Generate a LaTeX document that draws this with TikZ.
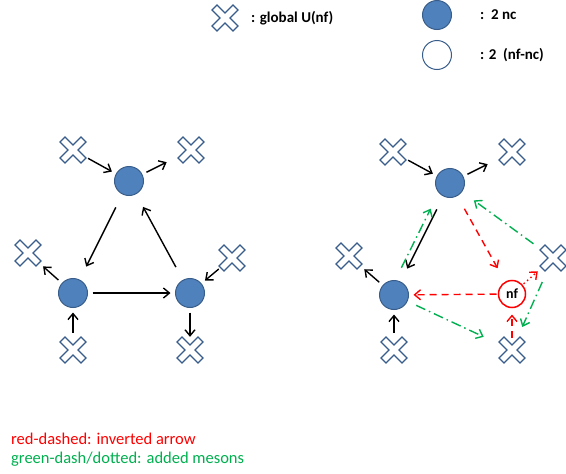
\documentclass[tikz,border=0pt]{standalone}
\usepackage{fontspec}
\setmainfont{Carlito}
\usetikzlibrary{arrows.meta,calc}
\definecolor{qblue}{HTML}{4F81BD}
\definecolor{qline}{HTML}{385D8A}
\definecolor{mgreen}{HTML}{00B050}

\begin{document}
\begin{tikzpicture}[x=1pt,y=-1pt,
    quark/.style={circle, fill=qblue, draw=qline, line width=1pt, minimum size=29pt, inner sep=0pt, outer sep=5pt},
    hollow/.style={quark, fill=white},
    flavour/.style={circle, minimum size=34pt, inner sep=0pt, path picture={
        \draw[qline, line width=1.3pt, fill=white, shift={(path picture bounding box.center)}]
          (-8.06,13.01) -- (-13.01,8.06) -- (-4.95,0) -- (-13.01,-8.06) -- (-8.06,-13.01) -- (0,-4.95) --
          (8.06,-13.01) -- (13.01,-8.06) -- (4.95,0) -- (13.01,8.06) -- (8.06,13.01) -- (0,4.95) -- cycle;}},
    nfnode/.style={circle, draw=red, line width=1.5pt, fill=white, minimum size=27pt, inner sep=0pt, outer sep=2pt, font=\bfseries\fontsize{14}{16}\selectfont},
    legend/.style={anchor=west, inner sep=0pt, font=\bfseries\fontsize{15}{18}\selectfont},
    meson/.style={-{Straight Barb[length=6pt,width=10pt]}, line width=1.4pt},
    inverted/.style={meson, red, dash pattern=on 7pt off 5pt},
    added/.style={meson, mgreen, dash pattern=on 10pt off 4pt on 1.5pt off 4pt}]

  \path[use as bounding box, fill=white] (0,0) rectangle (566,474);

  % legend
  \node[flavour] (lgx) at (225,18) {};
  \node[legend] (lgxt) at (251,18) {: global U(nf)};
  \node[quark] (lgq) at (437,15) {};
  \node[legend] (lgqt) at (480,15) {:~~2 nc};
  \node[hollow] (lgh) at (437,55) {};
  \node[legend] (lght) at (480,55) {: 2~~(nf-nc)};

  % left triangle
  \node[quark] (lt) at (129,181) {};
  \node[quark] (ll) at (73,293) {};
  \node[quark] (lr) at (190,293) {};
  \node[flavour] (ltl) at (73,150) {};
  \node[flavour] (ltr) at (191,150) {};
  \node[flavour] (lol) at (28,253) {};
  \node[flavour] (lor) at (232,258) {};
  \node[flavour] (lbl) at (73,350) {};
  \node[flavour] (lbr) at (190,350) {};

  \draw[meson] (ltl) -- (lt);
  \draw[meson, shorten >=10pt] (lt) -- (ltr);
  \draw[meson, shorten <=10pt, shorten >=10pt] (lt) -- (ll);
  \draw[meson, shorten <=10pt, shorten >=10pt] (lr) -- (lt);
  \draw[meson] (ll) -- (lr);
  \draw[meson, shorten >=3pt] (ll) -- (lol);
  \draw[meson] (lbl) -- (ll);
  \draw[meson] (lor) -- (lr);
  \draw[meson, shorten >=-4pt] (lr) -- (lbr);

  % right triangle
  \node[quark] (rt) at (450,183) {};
  \node[quark] (rl) at (394,295) {};
  \node[nfnode] (nf) at (512,294) {nf};
  \node[flavour] (rtl) at (393,152) {};
  \node[flavour] (rtr) at (512,152) {};
  \node[flavour] (rol) at (349,256) {};
  \node[flavour] (ror) at (553,258) {};
  \node[flavour] (rbl) at (394,350) {};
  \node[flavour] (rbr) at (512,350) {};

  \draw[meson] (rtl) -- (rt);
  \draw[meson, shorten >=10pt] (rt) -- (rtr);
  \draw[meson, shorten <=10pt, shorten >=10pt] (rt) -- (rl);
  \draw[meson, shorten >=3pt] (rl) -- (rol);
  \draw[meson] (rbl) -- (rl);

  \draw[inverted, shorten <=10pt, shorten >=14pt] (rt) -- (nf);
  \draw[inverted] (nf) -- (rl);
  \draw[inverted, shorten <=-5pt, shorten >=5pt] (rbr) -- (nf);
  \draw[inverted, dash pattern=on 1.5pt off 3pt, shorten >=3pt] (nf) -- (ror);

  \draw[added, shorten <=9pt, shorten >=13pt] (rl.80) -- (rt.226);
  \draw[added, shorten <=7pt, shorten >=10pt] (ror) -- (rt);
  \draw[added, shorten <=9pt, shorten >=8pt] (ror) -- (rbr);
  \draw[added, shorten <=5pt, shorten >=14pt] (rl) -- (rbr);

  % notes
  \node[anchor=west, inner sep=0pt, red, font=\fontsize{16.5}{19}\selectfont] (note1) at (11,439) {red-dashed: inverted arrow};
  \node[anchor=west, inner sep=0pt, mgreen, font=\fontsize{16.5}{19}\selectfont] (note2) at (11,459) {green-dash/dotted: added mesons};
\end{tikzpicture}
\end{document}
